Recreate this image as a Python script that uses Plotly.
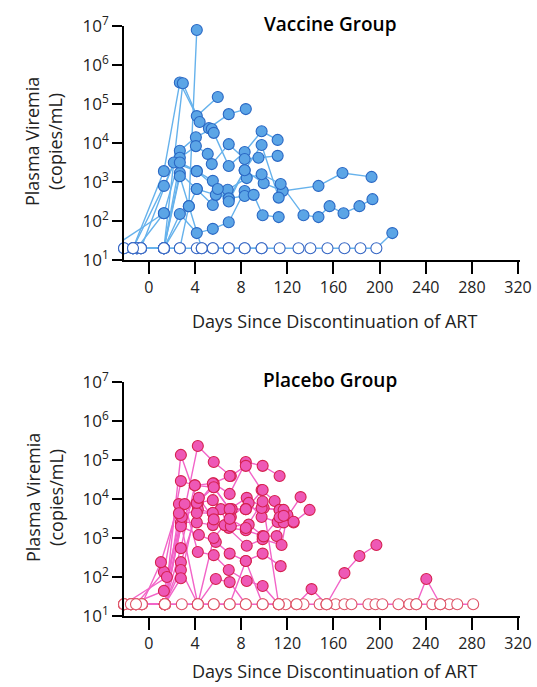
import plotly.graph_objects as go

# ---------------- data (copies/mL; 20 = below detection, drawn open) ----------------
x_tick_vals = [0, 40, 80, 120, 160, 200, 240, 280, 320]
x_tick_text = ["0", "4", "8", "120", "160", "200", "240", "280", "320"]
y_tick_vals = [1e1, 1e2, 1e3, 1e4, 1e5, 1e6, 1e7]
y_tick_text = ["10<sup>1</sup>", "10<sup>2</sup>", "10<sup>3</sup>", "10<sup>4</sup>",
               "10<sup>5</sup>", "10<sup>6</sup>", "10<sup>7</sup>"]
detect_limit = 20

vaccine_days = [
    [-10.4, 13, 34.6, 41.5],
    [-13.8, 13, 26.8, 41.5, 59.7],
    [-6.9, 13, 29.4, 44, 52, 69.2, 84],
    [-13.8, 13, 26.8, 40.7, 54.5, 56.2, 69.2, 83, 97.7, 111.6],
    [-10.4, 13, 26.8, 40.7, 51, 54.5, 69.2, 83, 95, 111.6],
    [-6.9, 21.6, 41.5, 55.4, 69.2, 83, 99.5, 116, 147, 167.8, 193],
    [-13.8, 13, 26.8, 41.5, 55.4, 68.3, 84.8, 97.7, 114.2, 134, 147, 156.6, 168.7, 182.5, 193.8],
    [-21.6, 13, 26.8, 41.5, 55.4, 69.2, 83],
    [-10.4, 26.8, 34.6, 41.5, 58, 69.2, 83, 90.8, 98.6, 112.5],
    [-6.9, 13, 26.8, 41.5, 59.7, 69.2, 83, 97.7, 112.5],
    [-21.6, -13.8, -10.4, -6.9, 13, 26.8, 41.5, 45.8, 55.4, 69.2, 83, 97.7, 113.3,
     129.7, 140, 154.8, 169.5, 183.4, 197.2, 211],
    [-33, 13],
    [-13.8, 13, 26.8, 45.8, 55.4, 69.2, 83, 97.7],
]
vaccine_copies = [
    [20, 20, 240, 7.9e6],
    [20, 1900, 355000, 49000, 151000],
    [20, 20, 339000, 34700, 24000, 55000, 74100],
    [20, 794, 6310, 14100, 22900, 18200, 2570, 5890, 20000, 12000],
    [20, 158, 4170, 8320, 5250, 2880, 9330, 3890, 4170, 4680],
    [20, 3160, 1900, 1070, 380, 2000, 933, 589, 794, 1700, 1350],
    [20, 20, 1700, 661, 257, 631, 1260, 1580, 891, 141, 126, 240, 158, 240, 363],
    [20, 20, 151, 49, 63, 93, 589],
    [20, 20, 240, 661, 468, 380, 437, 468, 141, 126],
    [20, 20, 3160, 1900, 661, 316, 2000, 8910, 398],
    [20, 20, 20, 20, 20, 20, 20, 20, 20, 20, 20, 20, 20, 20, 20, 20, 20, 20, 20, 49],
    [20, 158],
    [20, 20, 1410, 20, 20, 20, 20, 20],
]

placebo_days = [
    [-21.6, 13.8, 27.7, 42.4, 56.2, 70, 84, 98.6, 113.3],
    [-15.6, 13.8, 42.4, 56.2, 71, 84, 97.7, 109],
    [-11.2, 13, 27.7, 39.8, 56.2, 70, 84.8, 99.5, 113.3, 120],
    [-6.1, 10.4, 26, 41.5, 55.4, 71, 86.5, 97.7, 111.6, 125.4, 139.3],
    [-21.6, 15.6, 27.7, 42.4, 55.4, 62.3, 69.2, 84, 98.6, 110.7, 116.8, 131.5],
    [-15.6, 13, 27.7, 41.5, 55.4, 65.7, 84.8, 98.6, 115, 120],
    [-11.2, 13.8, 27.7, 43.3, 58, 70, 84, 98.6, 114.2],
    [-6.1, 13.8, 31, 42.4, 56.2, 69.2, 84.8, 98.6, 112.5],
    [-21.6, 13.8, 27.7, 39.8, 55.4, 70],
    [-15.6, 13.8, 27.7, 41.5, 55.4, 71.8, 84, 97.7, 113.3, 116.8],
    [-11.2, 13.8, 27.7, 42.4, 58, 70, 84],
    [-6.1, 13.8, 27.7, 41.5, 56.2, 70, 84, 98.6],
    [-21.6, -15.6, -11.2, -6.1, 13.8, 28.5, 42.4, 56.2, 70, 84, 98.6, 112.5, 118.5, 128, 134,
     148, 154, 161.8, 169.5, 175.6, 190.3, 196.4, 202.4, 216.3, 225.8, 231.8, 245.7, 252.6,
     260.4, 267.3, 281.1],
    [128, 141, 154],
    [154, 169.5, 182.5, 197.2],
    [231.8, 240.5, 252.6],
    [-21.6, 13.8, 42.4, 56.2, 70, 84, 98.6, 112.5],
    [-15.6, 13.8, 28.5, 43.3, 56.2, 71, 86.5, 99.5, 113.3, 116.8, 125.4],
    [-11.2, 13.8, 26, 42.4, 56.2, 70, 84, 98.6, 112.5],
]
placebo_copies = [
    [20, 20, 135000, 7940, 25100, 13500, 89100, 70800, 38900],
    [20, 20, 229000, 89100, 38900, 70800, 17000, 8910],
    [20, 135, 28800, 22400, 20000, 5500, 10700, 5890, 5250, 3630],
    [20, 240, 7410, 7940, 9330, 3470, 7940, 3470, 2570, 2510, 5250],
    [20, 100, 3630, 5500, 4370, 5500, 1820, 1580, 1120, 1120, 2510, 11200],
    [20, 44, 2510, 2510, 2140, 2140, 631, 933, 661, 3890],
    [20, 20, 2000, 1200, 794, 398, 257, 398, 190],
    [20, 20, 7410, 437, 363, 151, 79, 59, 20],
    [20, 20, 550, 22400, 25100, 38900],
    [20, 20, 240, 4370, 4370, 5500, 5500, 5890, 5250, 5250],
    [20, 20, 151, 20, 89, 74, 20],
    [20, 20, 93, 7940, 20000, 5500, 5500, 17000],
    [20] * 31,
    [20, 49, 20],
    [20, 126, 347, 661],
    [20, 89, 20],
    [20, 20, 20, 20, 20, 257, 20, 20],
    [20, 20, 3470, 10700, 3000, 2000, 2200, 1100, 3400, 3700, 2600],
    [20, 20, 4300, 20, 1000, 3100, 1800, 8600, 20],
]

# ---------------- styles ----------------
groups = [
    dict(days=vaccine_days, copies=vaccine_copies, x="x", y="y",
         line="#66B2EC", fill="#5BA5E6", edge="#2A68C4", open_edge="#3566C4"),
    dict(days=placebo_days, copies=placebo_copies, x="x2", y="y2",
         line="#F264C8", fill="#EE58B6", edge="#D5214F", open_edge="#DE5266"),
]

fig = go.Figure()
for g in groups:
    for d, c in zip(g["days"], g["copies"]):
        fig.add_trace(go.Scatter(x=d, y=c, mode="lines", xaxis=g["x"], yaxis=g["y"],
                                 line=dict(color=g["line"], width=1.4),
                                 hoverinfo="skip", showlegend=False))
for g in groups:
    for d, c in zip(g["days"], g["copies"]):
        fills = ["white" if v <= detect_limit else g["fill"] for v in c]
        edges = [g["open_edge"] if v <= detect_limit else g["edge"] for v in c]
        clip = min(d) < -25
        fig.add_trace(go.Scatter(x=d, y=c, mode="markers", xaxis=g["x"], yaxis=g["y"],
                                 marker=dict(size=11, color=fills,
                                             line=dict(color=edges, width=1.1)),
                                 cliponaxis=clip, showlegend=False))

FONT = "Open Sans"
H = 687.0
W = 537.0
x_dom = [124 / W, 520 / W]
top_dom = [1 - 260 / H, 1 - 26 / H]
bot_dom = [1 - 616 / H, 1 - 382 / H]

xax = dict(range=[-21.6, 321.7], tickvals=x_tick_vals, ticktext=x_tick_text,
           showline=True, linecolor="black", linewidth=1.5, ticks="outside",
           ticklen=12, tickwidth=1.5, tickcolor="black", showgrid=False, zeroline=False,
           automargin=False,
           tickfont=dict(family=FONT, size=16, color="#222"), domain=x_dom)
yax = dict(type="log", range=[1, 7], tickvals=y_tick_vals, ticktext=y_tick_text,
           showline=True, linecolor="black", linewidth=1.5, ticks="outside",
           ticklen=10, tickwidth=1.5, tickcolor="black", showgrid=False, zeroline=False,
           automargin=False,
           tickfont=dict(family=FONT, size=17, color="#222"))

fig.update_layout(
    template="none",
    width=537, height=687, margin=dict(l=0, r=0, t=0, b=0, autoexpand=False),
    paper_bgcolor="white", plot_bgcolor="white",
    xaxis=dict(xax, anchor="y"), yaxis=dict(yax, domain=top_dom, anchor="x"),
    xaxis2=dict(xax, anchor="y2"), yaxis2=dict(yax, domain=bot_dom, anchor="x2"),
)

ann = []
for title, ytop, ymid, yx in [("Vaccine Group", 24, 142, 321),
                              ("Placebo Group", 380, 498, 671)]:
    ann.append(dict(text=title, x=330 / W, y=1 - ytop / H, xref="paper", yref="paper",
                    showarrow=False, xanchor="center", yanchor="middle",
                    font=dict(family=FONT, size=19, color="black", weight=600)))
    ann.append(dict(text="Days Since Discontinuation of ART", x=334 / W, y=1 - yx / H,
                    xref="paper", yref="paper", showarrow=False, xanchor="center",
                    yanchor="middle", font=dict(family=FONT, size=18, color="#222")))
    ann.append(dict(text="Plasma Viremia<br>(copies/mL)", x=44 / W, y=1 - ymid / H,
                    xref="paper", yref="paper", showarrow=False, textangle=-90,
                    xanchor="center", yanchor="middle",
                    font=dict(family=FONT, size=18, color="#222")))
fig.update_layout(annotations=ann)

fig.write_html(
    "out.html",
    config={"displayModeBar": False},
    post_script="document.body.style.margin='0px';document.body.style.overflow='hidden';",
)
